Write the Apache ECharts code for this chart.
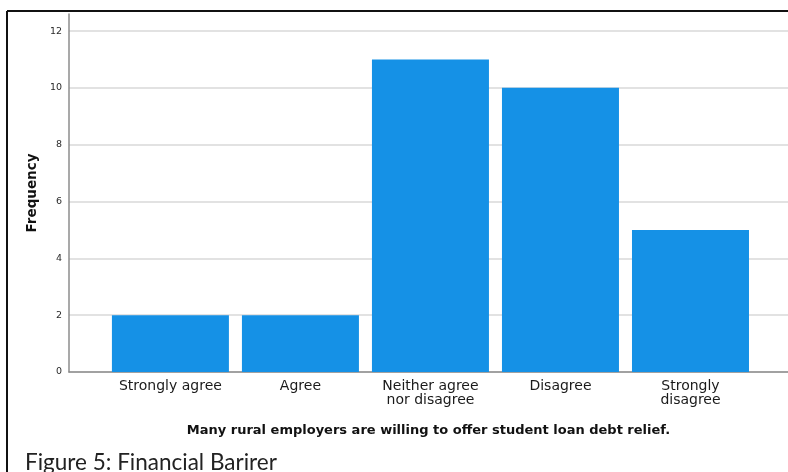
<!DOCTYPE html>
<html>
<head>
<meta charset="utf-8">
<script src="https://cdn.jsdelivr.net/npm/echarts@6/dist/echarts.min.js"></script>
<style>
  html, body { margin: 0; padding: 0; background: #fff; }
  #chart { width: 788px; height: 472px; }
</style>
</head>
<body>
<div id="chart"></div>
<script>
var categories = ['Strongly agree', 'Agree', 'Neither agree\nnor disagree', 'Disagree', 'Strongly\ndisagree'];
var frequency = [2, 2, 11, 10, 5];
var yTicks = [0, 2, 4, 6, 8, 10, 12];

var chart = echarts.init(document.getElementById('chart'));

// bars sit at positions 1..5 on a value axis so the axis can run past the first and last bar
var barData = frequency.map(function (v, i) { return [i + 1, v]; });

var option = {
    animation: false,
    grid: { left: 69, right: 0, top: 14, bottom: 100 },
    xAxis: {
        type: 'value',
        min: 0.22,
        max: 5.75,
        name: 'Many rural employers are willing to offer student loan debt relief.',
        nameLocation: 'middle',
        nameGap: 52,
        nameTextStyle: { fontFamily: 'DejaVu Sans', fontWeight: 'bold', fontSize: 13, color: '#111' },
        axisLine: { show: true, lineStyle: { color: '#8c8c8c', width: 1.5 } },
        axisTick: { show: false },
        splitLine: { show: false },
        axisLabel: {
            customValues: [1, 2, 3, 4, 5],
            formatter: function (v) { return categories[Math.round(v) - 1]; },
            fontFamily: 'DejaVu Sans',
            fontSize: 14,
            lineHeight: 14,
            color: '#1a1a1a',
            margin: 7
        }
    },
    yAxis: {
        type: 'value',
        min: 0,
        max: 12.6,
        interval: 2,
        name: 'Frequency',
        nameLocation: 'middle',
        nameGap: 30,
        nameTextStyle: { fontFamily: 'DejaVu Sans', fontWeight: 'bold', fontSize: 13.5, color: '#111' },
        axisLine: { show: true, lineStyle: { color: '#8c8c8c', width: 1.5 } },
        axisTick: { show: false },
        axisLabel: {
            showMaxLabel: false,
            formatter: function (v) { return yTicks.indexOf(v) >= 0 ? String(v) : ''; },
            fontFamily: 'DejaVu Sans',
            fontSize: 9.5,
            color: '#2a2a2a',
            margin: 7
        },
        splitLine: { show: true, showMaxLine: false, lineStyle: { color: '#d9d9d9', width: 1.5 } }
    },
    series: [
        {
            type: 'bar',
            data: barData,
            barWidth: 117,
            itemStyle: { color: '#1591e6' }
        }
    ],
    graphic: [
        { type: 'line', shape: { x1: 7, y1: 11, x2: 788, y2: 11 }, style: { stroke: '#111', lineWidth: 2 } },
        { type: 'line', shape: { x1: 7, y1: 11, x2: 7, y2: 472 }, style: { stroke: '#111', lineWidth: 2 } },
        {
            type: 'text',
            x: 25,
            y: 463,
            style: { text: 'Figure 5: Financial Barirer', font: '22.5px Lato', fill: '#222', textVerticalAlign: 'middle' }
        }
    ]
};

chart.setOption(option);
</script>
</body>
</html>
